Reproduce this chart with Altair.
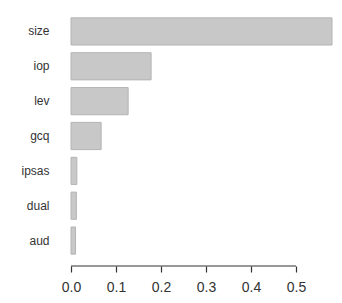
import altair as alt
import pandas as pd

variables = ["size", "iop", "lev", "gcq", "ipsas", "dual", "aud"]
importance = [0.580, 0.178, 0.127, 0.067, 0.013, 0.012, 0.010]
x_ticks = [0.0, 0.1, 0.2, 0.3, 0.4, 0.5]

df = pd.DataFrame({"var": variables, "imp": importance})

W = 261
H = 244

bars = alt.Chart(df).mark_bar(
    color="#c8c8c8", stroke="#b4b4b4", strokeWidth=1
).encode(
    x=alt.X("imp:Q", scale=alt.Scale(domain=[0, 0.58], nice=False, zero=True),
            axis=alt.Axis(values=x_ticks, format=".1f", title=None, domain=False,
                          grid=False, offset=8, tickSize=6, tickColor="#333333",
                          tickWidth=1.2, labelFontSize=14, labelColor="#333333",
                          labelFont="Liberation Sans", labelPadding=8,
                          labelFlush=False)),
    y=alt.Y("var:N", sort=variables,
            scale=alt.Scale(paddingInner=0.22, paddingOuter=0.11),
            axis=alt.Axis(title=None, domain=False, ticks=False, labelPadding=22,
                          labelFontSize=12, labelColor="#333333",
                          labelFont="Liberation Sans")),
)

rule = alt.Chart(pd.DataFrame({"a": [x_ticks[0]], "b": [x_ticks[-1]]})).mark_rule(
    color="#333333", strokeWidth=1.2
).encode(
    x="a:Q", x2="b:Q", y=alt.value(H + 8)
)

chart = alt.layer(bars, rule).properties(
    width=W, height=H,
    autosize=alt.AutoSizeParams(type="none"),
    padding={"left": 63, "top": 6, "right": 1, "bottom": 37},
).configure_view(stroke=None)

chart.save("out.html", embed_options={"renderer": "svg", "actions": False})
